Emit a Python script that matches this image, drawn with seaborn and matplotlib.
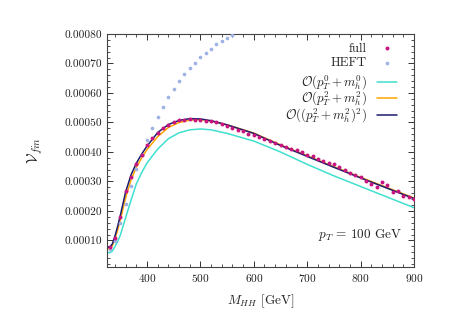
import numpy as np
import pandas as pd
import seaborn as sns
import matplotlib
matplotlib.use("Agg")
import matplotlib.pyplot as plt
from matplotlib.ticker import MultipleLocator, FormatStrFormatter

# ---------------- data ----------------
full_x = list(range(330, 901, 10))
full_y = [0.79, 1.10, 1.81, 2.67, 3.14, 3.58, 3.91, 4.22, 4.48, 4.66,
          4.80, 4.92, 5.01, 5.07, 5.10, 5.12, 5.10, 5.07, 5.06, 5.05,
          5.00, 4.94, 4.88, 4.82, 4.76, 4.70, 4.62, 4.56, 4.50, 4.44,
          4.36, 4.29, 4.23, 4.16, 4.10, 4.06, 4.00, 3.90, 3.85, 3.76,
          3.70, 3.64, 3.58, 3.50, 3.38, 3.29, 3.21, 3.14, 3.01, 2.91,
          2.82, 2.97, 2.88, 2.64, 2.66, 2.50, 2.47, 2.40]
full_y = [v * 1e-4 for v in full_y]

heft_x = list(range(330, 561, 10))
heft_y = [0.70, 0.98, 1.58, 2.25, 2.86, 3.43, 3.91, 4.40, 4.81, 5.20,
          5.54, 5.86, 6.14, 6.40, 6.65, 6.84, 7.03, 7.21, 7.37, 7.50,
          7.65, 7.76, 7.87, 7.97]
heft_y = [v * 1e-4 for v in heft_y]

line_x = [327, 330, 335, 340, 345, 350, 360, 370, 380, 390, 400, 420, 440,
          460, 480, 500, 520, 550, 600, 650, 700, 750, 800, 850, 900]
o0_y = [0.60, 0.58, 0.64, 0.80, 0.96, 1.18, 1.78, 2.36, 2.92, 3.30, 3.63,
        4.10, 4.45, 4.65, 4.75, 4.78, 4.75, 4.63, 4.37, 4.00, 3.58, 3.19,
        2.83, 2.47, 2.11]
o2_y = [0.72, 0.72, 0.82, 1.06, 1.35, 1.70, 2.45, 3.05, 3.48, 3.80, 4.08,
        4.52, 4.83, 5.00, 5.08, 5.10, 5.05, 4.92, 4.64, 4.24, 3.87, 3.50,
        3.14, 2.79, 2.44]
o22_y = [0.77, 0.77, 0.88, 1.15, 1.48, 1.85, 2.65, 3.22, 3.62, 3.93, 4.20,
         4.66, 4.93, 5.07, 5.13, 5.12, 5.06, 4.92, 4.63, 4.22, 3.85, 3.48,
         3.12, 2.77, 2.42]
o0_y = [v * 1e-4 for v in o0_y]
o2_y = [v * 1e-4 for v in o2_y]
o22_y = [v * 1e-4 for v in o22_y]

labels = ["full", "HEFT",
          r"$\mathcal{O}(p_T^0 + m_h^0)$",
          r"$\mathcal{O}(p_T^2 + m_h^2)$",
          r"$\mathcal{O}((p_T^2 + m_h^2)^2)$"]
colors = ["#c8157f", "#9fb2e4", "#3fe0d0", "#ffa500", "#1c1c6e"]

x_ticks = [400, 500, 600, 700, 800, 900]
y_ticks = [0.0001, 0.0002, 0.0003, 0.0004, 0.0005, 0.0006, 0.0007, 0.0008]

# ---------------- style ----------------
sns.set_theme(style="ticks")
plt.rcParams["font.family"] = ["cmr10", "DejaVu Serif"]
plt.rcParams["mathtext.fontset"] = "cm"
plt.rcParams["axes.formatter.use_mathtext"] = True
plt.rcParams["axes.unicode_minus"] = False

fig = plt.figure(figsize=(4.57, 3.26), dpi=100)
ax = fig.add_axes([0.2341, 0.1810, 0.6718, 0.7147])

df_full = pd.DataFrame({"x": full_x, "y": full_y})
df_heft = pd.DataFrame({"x": heft_x, "y": heft_y})
df_lines = pd.DataFrame({"x": line_x, "o0": o0_y, "o2": o2_y, "o22": o22_y})

sns.lineplot(data=df_lines, x="x", y="o0", ax=ax, color=colors[2], lw=1.1,
             label=labels[2], legend=False)
sns.lineplot(data=df_lines, x="x", y="o2", ax=ax, color=colors[3], lw=1.1,
             label=labels[3], legend=False)
sns.lineplot(data=df_lines, x="x", y="o22", ax=ax, color=colors[4], lw=1.1,
             label=labels[4], legend=False)
sns.scatterplot(data=df_heft, x="x", y="y", ax=ax, color=colors[1], s=7,
                linewidth=0, label=labels[1], legend=False, zorder=3)
sns.scatterplot(data=df_full, x="x", y="y", ax=ax, color=colors[0], s=8,
                linewidth=0, label=labels[0], legend=False, zorder=4)

ax.set_xlim(325, 900)
ax.set_ylim(0.00001, 0.0008)
ax.set_xticks(x_ticks)
ax.set_yticks(y_ticks)
ax.yaxis.set_major_formatter(FormatStrFormatter("%.5f"))
ax.xaxis.set_minor_locator(MultipleLocator(20))
ax.yaxis.set_minor_locator(MultipleLocator(0.00002))
ax.tick_params(which="both", direction="in", top=True, right=True,
               labelsize=8.2, colors="#333333", labelcolor="#222222")
ax.tick_params(which="major", length=4.5, width=0.7)
ax.tick_params(which="minor", length=2.5, width=0.6)
for sp in ax.spines.values():
    sp.set_color("#444444")
    sp.set_linewidth(0.8)

ax.set_xlabel(r"$M_{HH}$ [GeV]", fontsize=9.5, color="#222222", labelpad=6)
ax.set_ylabel(r"$\mathcal{V}_{fin}$", fontsize=11, color="#222222", labelpad=14)

ax.text(0.961, 0.137, r"$p_T\,=\,100$ GeV", transform=ax.transAxes,
        ha="right", va="center", fontsize=9.5, color="#222222")

h, l = ax.get_legend_handles_labels()
hd = dict(zip(l, h))
common = dict(loc="upper right", markerfirst=False, frameon=False,
              fontsize=9.3, handlelength=1.5, handletextpad=0.8,
              borderaxespad=0.0, scatterpoints=1)
leg1 = ax.legend([hd[s] for s in labels[:2]], labels[:2],
                 bbox_to_anchor=(0.96, 0.985), labelspacing=0.2, **common)
ax.add_artist(leg1)
ax.legend([hd[s] for s in labels[2:]], labels[2:],
          bbox_to_anchor=(0.96, 0.852), labelspacing=-0.16, **common)

fig.savefig("out.png", dpi=100)
